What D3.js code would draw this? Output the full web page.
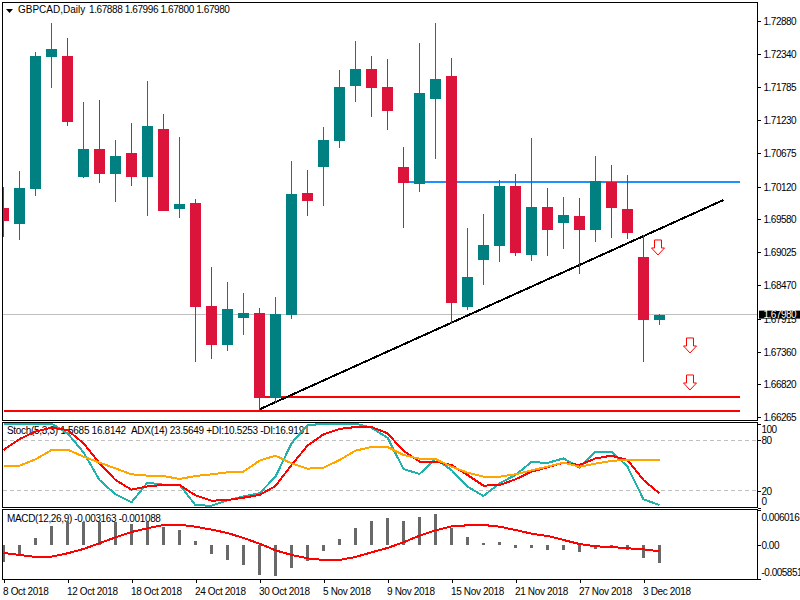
<!DOCTYPE html>
<html>
<head>
<meta charset="utf-8">
<script src="https://cdn.jsdelivr.net/npm/d3@7"></script>
<style>
html, body { margin: 0; padding: 0; background: #fff; }
svg { display: block; }
text { font-family: "Liberation Sans", Arial, sans-serif; font-size: 10px; fill: #000; white-space: pre; }
.num { letter-spacing: -0.5px; }
.legend { letter-spacing: -0.3px; }
</style>
</head>
<body>
<svg id="chart" width="800" height="600"></svg>
<script>
var opens = [1.69761,1.69494,1.70079,1.72284,1.72300,1.70279,1.70747,1.70329,1.70680,1.70279,1.71081,1.69745,1.69845,1.68124,1.67473,1.67924,1.68007,1.66587,1.67974,1.70012,1.70446,1.70880,1.71799,1.72083,1.71782,1.70446,1.70162,1.71582,1.71966,1.68107,1.68893,1.69126,1.70129,1.68976,1.69778,1.69511,1.69628,1.69394,1.70195,1.69745,1.68943,1.67888]
var highs = [1.70112,1.70379,1.72367,1.72852,1.72601,1.71532,1.71565,1.70897,1.71181,1.71883,1.71331,1.70947,1.69912,1.68776,1.68525,1.68341,1.68091,1.68274,1.70546,1.70396,1.71114,1.72066,1.72551,1.72300,1.72250,1.70780,1.72518,1.72852,1.72267,1.69427,1.69661,1.70229,1.70329,1.70931,1.70095,1.69945,1.69928,1.70630,1.70479,1.70312,1.69310,1.67996]
var lows = [1.69277,1.69227,1.69962,1.71766,1.71131,1.70262,1.70179,1.69861,1.70129,1.69628,1.69711,1.69594,1.67189,1.67239,1.67372,1.67640,1.66387,1.66504,1.67907,1.69628,1.69795,1.70764,1.71532,1.71281,1.71064,1.69427,1.70028,1.70580,1.67823,1.68057,1.68475,1.68859,1.68959,1.68876,1.68959,1.69076,1.68659,1.69193,1.69260,1.69243,1.67189,1.67800]
var closes = [1.69544,1.70095,1.72300,1.72417,1.71198,1.70747,1.70329,1.70630,1.70279,1.71131,1.69711,1.69828,1.68107,1.67473,1.68074,1.68007,1.66587,1.67990,1.69995,1.69878,1.70897,1.71782,1.72083,1.71766,1.71382,1.70179,1.71682,1.71916,1.68174,1.68609,1.69143,1.70129,1.69009,1.69778,1.69394,1.69644,1.69394,1.70212,1.69761,1.69344,1.67890,1.67980]

var stochMain = [100,100,100,100,88.3,65.7,32.7,15.7,6.2,29.6,27.2,27.2,2.6,2.2,8.5,13.3,16.9,36.7,76.4,98.2,99.4,99.8,99.8,95.0,83.1,45.8,39.9,57.7,44.6,24.8,13.7,28.8,38.7,54.2,53.0,58.5,47.4,66.5,66.5,48.6,9.7,3.0]
var stochSignal = [68.4,81.5,90.3,95.0,92.3,76.4,52.6,32.7,21.2,25.2,26.8,26.8,14.5,8.1,8.9,11.7,14.9,25.6,50.6,73.6,87.1,93.5,95.8,95.8,88.3,67.3,54.6,54.6,50.6,38.7,26.0,26.8,33.5,42.7,47.8,53.4,50.6,58.5,61.7,56.5,32.7,16.8142]
var adxLine = [49.8,49.8,57.3,68.4,68.9,60.5,53.4,46.6,39.5,37.9,37.5,33.9,37.5,39.5,41.9,42.7,55.8,61.7,52.6,46.2,47.4,56.5,67.7,72.0,72.0,62.5,58.1,57.7,48.6,41.5,36.7,36.7,39.5,44.2,48.6,53.4,48.6,52.2,55.4,56.9,56.9,56.9]

var macdHist = [-0.002866,-0.001720,0.001146,0.003267,0.004127,0.004012,0.004012,0.003898,0.003611,0.004012,0.003153,0.002579,0.000688,-0.001548,-0.002579,-0.003439,-0.005159,-0.005331,-0.003955,-0.002694,-0.001032,0.001032,0.002923,0.004127,0.004643,0.004127,0.004815,0.005331,0.002866,0.001376,0.000344,0.000516,-0.000516,-0.000516,-0.000860,-0.000860,-0.001204,-0.000688,-0.000573,-0.000860,-0.002235,-0.003163]
var macdSignal = [-0.001376,-0.001720,-0.002064,-0.002006,-0.001433,-0.000688,0.000287,0.001318,0.002235,0.002866,0.003439,0.003497,0.003153,0.002637,0.002064,0.001204,0.000229,-0.000917,-0.001720,-0.002293,-0.002579,-0.002579,-0.002064,-0.001261,-0.000516,0.000459,0.001605,0.002522,0.003210,0.003382,0.003439,0.003153,0.002579,0.001949,0.001548,0.000860,0.000172,-0.000229,-0.000344,-0.000573,-0.000745,-0.001088]

var priceTicks = [1.72880,1.72340,1.71785,1.71230,1.70675,1.70120,1.69580,1.69025,1.68470,1.67915,1.67360,1.66820,1.66265]
var stochTicks = [100,80,20,0]
var macdTicks = [0.006016,0,-0.005851]
var macdTickLabels = ["0.006016","0.00","-0.005851"]
var dateBars = [0,4,8,12,16,20,24,28,32,36,40]
var dateLabels = ["8 Oct 2018","12 Oct 2018","18 Oct 2018","24 Oct 2018","30 Oct 2018","5 Nov 2018","9 Nov 2018","15 Nov 2018","21 Nov 2018","27 Nov 2018","3 Dec 2018"]

var lastPrice = 1.67980
var trendBars = [16,45]
var trendPrices = [1.66398,1.69895]
var levelPrices = [1.70195,1.66604,1.66362]
var levelStarts = [25,16,0]
var levelEnd = 46
var arrowBars = [41,43,43]
var arrowPrices = [1.69227,1.67590,1.66972]

var teal = "#008080", crimson = "#dc143c"
var left = 3, right = 757
var svg = d3.select("#chart")
var bars = d3.range(opens.length)

var x = d3.scaleLinear().domain([0,41]).range([3.5,659.5])
var y = d3.scaleLinear().domain([1.72880,1.66265]).range([21.3,417.3])
var yStoch = d3.scaleLinear().domain([0,100]).range([507.5,423.5])
var yMacd = d3.scaleLinear().domain([-0.005851,0.006016]).range([579,510])

function clip(id, top, bottom) {
    svg.append("clipPath").attr("id",id).append("rect")
        .attr("x",left).attr("y",top).attr("width",right-left).attr("height",bottom-top)
}
clip("clipMain",3,420)
clip("clipStoch",423,507)
clip("clipMacd",510,579)

// main panel
var main = svg.append("g").attr("clip-path","url(#clipMain)").attr("shape-rendering","crispEdges")

main.append("line")
    .attr("x1",left).attr("x2",right)
    .attr("y1",Math.floor(y(lastPrice))+0.5).attr("y2",Math.floor(y(lastPrice))+0.5)
    .attr("stroke","#c0c0c0")

main.selectAll(".level").data(levelPrices).enter().append("line")
    .attr("class","level")
    .attr("x1",function(d,i){return x(levelStarts[i])})
    .attr("x2",x(levelEnd))
    .attr("y1",function(d){return y(d)})
    .attr("y2",function(d){return y(d)})
    .attr("stroke",function(d,i){return i==0 ? "#1e90ff" : "#ff0000"})
    .attr("stroke-width",2)

main.append("line")
    .attr("x1",x(trendBars[0])).attr("y1",y(trendPrices[0]))
    .attr("x2",x(trendBars[1])).attr("y2",y(trendPrices[1]))
    .attr("stroke","#000").attr("stroke-width",2)

var candle = main.selectAll(".candle").data(bars).enter().append("g").attr("class","candle")
var candleColor = function(i){return closes[i] >= opens[i] ? teal : crimson}

candle.append("line")
    .attr("x1",function(i){return x(i)}).attr("x2",function(i){return x(i)})
    .attr("y1",function(i){return Math.round(y(highs[i]))})
    .attr("y2",function(i){return Math.round(y(lows[i]))})
    .attr("stroke",candleColor)

candle.append("rect")
    .attr("x",function(i){return x(i)-5.5})
    .attr("width",11)
    .attr("y",function(i){return Math.round(y(Math.max(opens[i],closes[i])))})
    .attr("height",function(i){return Math.round(y(Math.min(opens[i],closes[i])))-Math.round(y(Math.max(opens[i],closes[i])))})
    .attr("fill",candleColor)

main.selectAll(".arrow").data(arrowPrices).enter().append("path")
    .attr("class","arrow")
    .attr("transform",function(d,i){return "translate("+(x(arrowBars[i])-1.5)+","+y(d)+")"})
    .attr("d","M-3.5,0H3.5V8H6.5L0,15L-6.5,8H-3.5Z")
    .attr("fill","#fff").attr("stroke","#ff0000")
    .attr("shape-rendering","auto")

// legends sit under the indicator lines
svg.append("path").attr("d","M6,9H13L9.5,13Z").attr("fill","#000")
svg.append("text").attr("x",18).attr("y",13).text("GBPCAD,Daily")
svg.append("text").attr("class","num").style("letter-spacing","-0.4px").attr("x",89).attr("y",13).text("1.67888 1.67996 1.67800 1.67980")
svg.append("text").attr("class","legend").attr("x",7).attr("y",434).text("Stoch(5,3,3) 1.5685 16.8142")
svg.append("text").attr("class","legend").attr("x",131).attr("y",434).text("ADX(14) 23.5649 +DI:10.5253 -DI:16.9191")
svg.append("text").attr("class","num").style("letter-spacing","-0.35px").attr("x",7).attr("y",522).text("MACD(12,26,9) -0.003163 -0.001088")

// stochastic panel
var stoch = svg.append("g").attr("clip-path","url(#clipStoch)").attr("shape-rendering","crispEdges")

stoch.selectAll(".level").data([80,20]).enter().append("line")
    .attr("class","level")
    .attr("x1",left).attr("x2",right)
    .attr("y1",function(d){return Math.floor(yStoch(d))+0.5})
    .attr("y2",function(d){return Math.floor(yStoch(d))+0.5})
    .attr("stroke","#c0c0c0").attr("stroke-dasharray","4,3")

var stochPath = d3.line().x(function(d,i){return x(i)}).y(function(d){return yStoch(d)})
var stochSeries = [[stochMain,"#20b2aa"],[stochSignal,"#ff0000"],[adxLine,"#ffa500"]]
stoch.selectAll(".series").data(stochSeries).enter().append("path")
    .attr("class","series")
    .attr("d",function(d){return stochPath(d[0])})
    .attr("fill","none").attr("stroke",function(d){return d[1]}).attr("stroke-width",2)

// macd panel
var macd = svg.append("g").attr("clip-path","url(#clipMacd)").attr("shape-rendering","crispEdges")

macd.selectAll(".hist").data(macdHist).enter().append("rect")
    .attr("class","hist")
    .attr("x",function(d,i){return x(i)-1.5})
    .attr("width",3)
    .attr("y",function(d){return Math.min(yMacd(d),yMacd(0))})
    .attr("height",function(d){return Math.abs(yMacd(d)-yMacd(0))})
    .attr("fill","#696969")

macd.append("path")
    .attr("d",d3.line().x(function(d,i){return x(i)}).y(function(d){return yMacd(d)})(macdSignal))
    .attr("fill","none").attr("stroke","#ff0000").attr("stroke-width",2)

// frames
var frames = svg.append("g").attr("shape-rendering","crispEdges").attr("fill","none").attr("stroke","#000")
frames.append("rect").attr("x",2.5).attr("y",2.5).attr("width",755).attr("height",418)
frames.append("rect").attr("x",2.5).attr("y",422.5).attr("width",755).attr("height",85)
frames.append("rect").attr("x",2.5).attr("y",509.5).attr("width",755).attr("height",70)

// right axes, labels get pulled inside the panel like the terminal does
function styleAxis(g, labelX) {
    g.select(".domain").remove()
    g.selectAll(".tick line").attr("stroke","#000").attr("shape-rendering","crispEdges")
    g.selectAll(".tick text").attr("class","num").attr("x",labelX).attr("dy","0.36em")
}

var priceAxis = svg.append("g").attr("transform","translate(757.5,0)")
    .call(d3.axisRight(y).tickValues(priceTicks).tickSize(3).tickFormat(d3.format(".5f")))
styleAxis(priceAxis,6)

var stochAxis = svg.append("g").attr("transform","translate(757.5,0)")
    .call(d3.axisRight(yStoch).tickValues(stochTicks).tickSize(3))
styleAxis(stochAxis,4)
stochAxis.selectAll(".tick text").attr("y",function(d){
    return Math.max(429.3,Math.min(500.7,yStoch(d)))-yStoch(d)
})

var macdAxis = svg.append("g").attr("transform","translate(757.5,0)")
    .call(d3.axisRight(yMacd).tickValues(macdTicks).tickSize(3)
        .tickFormat(function(d,i){return macdTickLabels[i]}))
styleAxis(macdAxis,4)
macdAxis.selectAll(".tick text").attr("y",function(d){
    return Math.max(516.7,Math.min(572.3,yMacd(d)))-yMacd(d)
})

// current price tag
svg.append("rect").attr("x",759).attr("y",y(lastPrice)-4).attr("width",41).attr("height",8).attr("fill","#000")
svg.append("text").attr("class","num").attr("x",763.5).attr("y",y(lastPrice)).attr("dy","0.36em")
    .style("fill","#fff").text(d3.format(".5f")(lastPrice))

// date axis
var dateAxis = svg.append("g").attr("transform","translate(0,579.5)")
    .call(d3.axisBottom(x).tickValues(dateBars).tickSize(3)
        .tickFormat(function(d,i){return dateLabels[i]}))
dateAxis.select(".domain").remove()
dateAxis.selectAll(".tick line").attr("stroke","#000").attr("shape-rendering","crispEdges")
dateAxis.selectAll(".tick text").attr("class","num").style("letter-spacing","-0.35px").attr("text-anchor","start").attr("x",-1).attr("y",8)
</script>
</body>
</html>
